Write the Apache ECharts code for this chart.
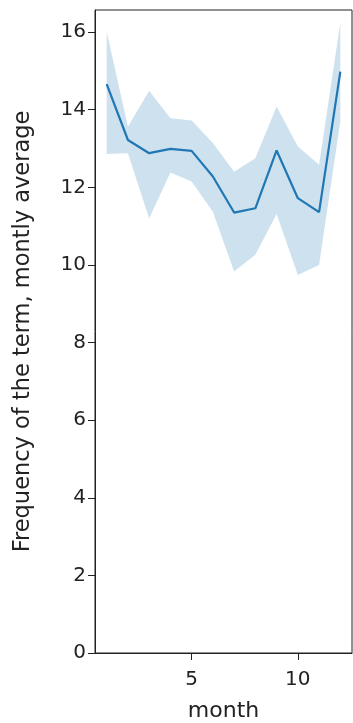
<!DOCTYPE html>
<html>
<head>
<meta charset="utf-8">
<script src="https://cdn.jsdelivr.net/npm/echarts@6/dist/echarts.min.js"></script>
<style>
html,body{margin:0;padding:0;background:#fff;}
#chart{width:353px;height:723px;}
</style>
</head>
<body>
<div id="chart"></div>
<script>
const months = [1,2,3,4,5,6,7,8,9,10,11,12];
const meanValues = [14.66,13.22,12.88,12.99,12.94,12.28,11.35,11.46,12.95,11.72,11.36,14.98];
const upperValues = [16.01,13.56,14.49,13.78,13.72,13.14,12.40,12.75,14.08,13.05,12.58,16.24];
const lowerValues = [12.86,12.88,11.20,12.38,12.15,11.37,9.83,10.26,11.31,9.74,10.00,13.70];
const xTicks = [5,10];
const yTicks = [0,2,4,6,8,10,12,14,16];
const xLabel = 'month';
const yLabel = 'Frequency of the term, montly average';

const chart = echarts.init(document.getElementById('chart'));
const font = 'DejaVu Sans';
const txt = '#222';

const bandData = months.map((m,i)=>[m, lowerValues[i], upperValues[i]]);
const lineData = months.map((m,i)=>[m, meanValues[i]]);

chart.setOption({
  animation:false,
  grid:{left:95,right:1,top:10,bottom:70,show:true,borderColor:'#222',borderWidth:1,backgroundColor:'transparent',outerBoundsMode:'none',containLabel:false},
  xAxis:{
    type:'value',min:0.45,max:12.55,
    name:xLabel,nameLocation:'middle',nameGap:47,
    nameTextStyle:{fontFamily:font,fontSize:22,color:txt},
    axisLine:{show:true,onZero:false,lineStyle:{color:'#222',width:1}},
    axisTick:{show:true,length:7,customValues:xTicks,lineStyle:{color:'#222'}},
    axisLabel:{customValues:xTicks,fontFamily:font,fontSize:20,color:txt,margin:17},
    splitLine:{show:false}
  },
  yAxis:{
    type:'value',min:0,max:16.57,
    name:yLabel,nameLocation:'middle',nameGap:60,nameRotate:90,
    nameTextStyle:{fontFamily:font,fontSize:22.5,color:txt},
    axisLine:{show:true,lineStyle:{color:'#222',width:1}},
    axisTick:{show:true,length:7,customValues:yTicks,lineStyle:{color:'#222'}},
    axisLabel:{customValues:yTicks,fontFamily:font,fontSize:20,color:txt,margin:9},
    splitLine:{show:false}
  },
  series:[
    {
      type:'custom',
      data:bandData,
      z:1,
      silent:true,
      renderItem:function(params, api){
        if(params.dataIndex!==0) return;
        const pts=[];
        for(let i=0;i<bandData.length;i++) pts.push(api.coord([bandData[i][0],bandData[i][2]]));
        for(let i=bandData.length-1;i>=0;i--) pts.push(api.coord([bandData[i][0],bandData[i][1]]));
        return {type:'polygon',shape:{points:pts},style:{fill:'rgba(31,119,180,0.22)',stroke:'none'}};
      },
      encode:{x:0,y:[1,2]}
    },
    {
      type:'line',
      data:lineData,
      z:3,
      symbol:'none',
      lineStyle:{color:'#1f77b4',width:2.2}
    }
  ]
});
</script>
</body>
</html>
